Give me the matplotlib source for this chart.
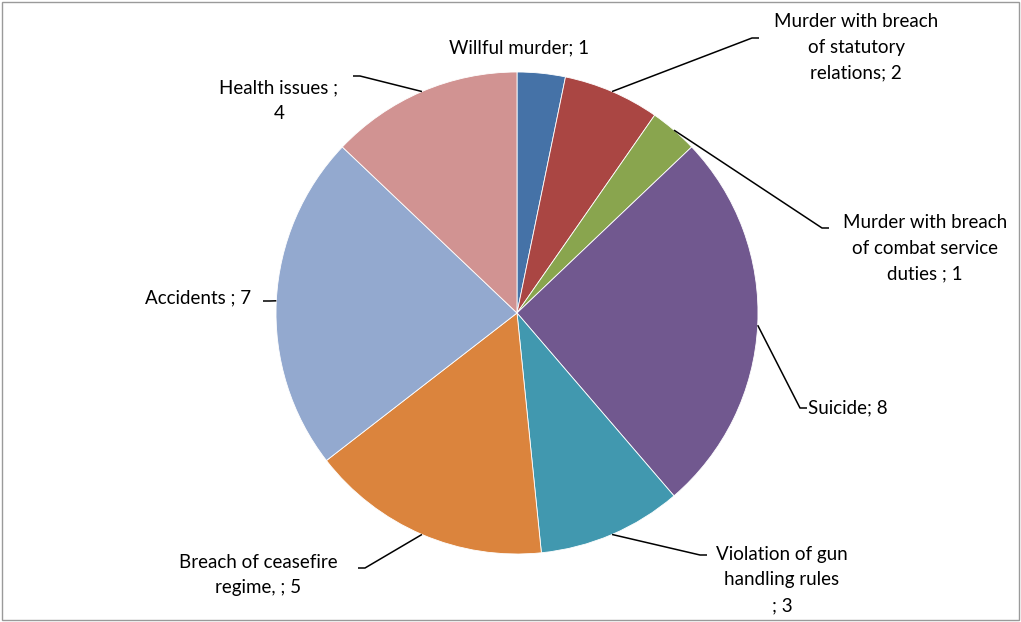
import numpy as np
import matplotlib.pyplot as plt
from matplotlib.patches import Rectangle

labels = ['Willful murder; 1',
          'Murder with breach\nof statutory\nrelations; 2',
          'Murder with breach\nof combat service\nduties ; 1',
          'Suicide; 8',
          'Violation of gun\nhandling rules\n; 3',
          'Breach of ceasefire\nregime, ; 5',
          'Accidents ; 7',
          'Health issues ;\n4']
values = [1, 2, 1, 8, 3, 5, 7, 4]
colors = ['#4572A7', '#AA4643', '#89A54E', '#71588F',
          '#4198AF', '#DB843D', '#93A9CF', '#D19392']

plt.rcParams['font.family'] = ['Lato', 'DejaVu Sans']

W, H = 1021, 622
cx, cy, R = 517, 313, 241
fig = plt.figure(figsize=(W / 100, H / 100), dpi=100)
ax = fig.add_axes([(cx - R) / W, (H - cy - R) / H, 2 * R / W, 2 * R / H])

wedges, _ = ax.pie(values, colors=colors, startangle=90, counterclock=False,
                   radius=1, center=(0, 0), frame=False,
                   wedgeprops=dict(edgecolor='white', linewidth=0.6))
ax.set_xlim(-1, 1)
ax.set_ylim(-1, 1)
ax.set_aspect('equal')
ax.axis('off')


def px(x, y):
    return ((x - cx) / R, (cy - y) / R)


# label layout: (text anchor px, elbow px, ha) ; None elbow = no leader
layout = [
    ((519, 48), None, 'center'),
    ((856, 47), (752, 38), 'center'),
    ((925, 248), (822, 228), 'center'),
    ((808, 408), (800, 408), 'left'),
    ((782, 580), (700, 555), 'center'),
    ((258, 575), (365, 568), 'center'),
    ((198, 298), (270, 301), 'center'),
    ((279, 101), (360, 76), 'center'),
]

total = sum(values)
cum = 0
for i, v in enumerate(values):
    mid = (cum + v / 2) / total * 2 * np.pi
    cum += v
    ex, ey = np.sin(mid), np.cos(mid)
    (tx, ty), elbow, ha = layout[i]
    if elbow is not None:
        bx, by = px(*elbow)
        side = 1 if elbow[0] > cx else -1
        ax.plot([ex, bx, bx + side * 7 / R], [ey, by, by], color='black',
                lw=1.1, clip_on=False, solid_capstyle='butt')
    lx, ly = px(tx, ty)
    ax.text(lx, ly, labels[i], ha=ha, va='center', fontsize=13.5,
            color='black', linespacing=1.6, clip_on=False)

fig.patches.append(Rectangle((2 / W, 2 / H), 1 - 4 / W, 1 - 4 / H,
                             transform=fig.transFigure, fill=False,
                             edgecolor='#9a9a9a', linewidth=1))

fig.savefig('out.png', dpi=100)
